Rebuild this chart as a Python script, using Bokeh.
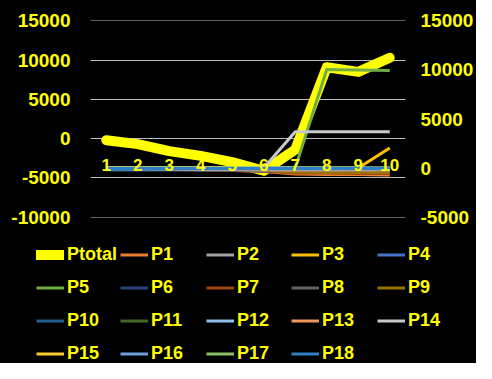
from bokeh.plotting import figure
from bokeh.layouts import column
from bokeh.models import Range1d, LinearAxis, FixedTicker, Grid, Legend, LegendItem
from bokeh.embed import file_html
from bokeh.resources import INLINE

# ---- data ----
x = [1, 2, 3, 4, 5, 6, 7, 8, 9, 10]
x_labels = ["1", "2", "3", "4", "5", "6", "7", "8", "9", "10"]
left_ticks = [-10000, -5000, 0, 5000, 10000, 15000]
left_labels = ["-10000", "-5000", "0", "5000", "10000", "15000"]
right_ticks = [-5000, 0, 5000, 10000, 15000]
right_labels = ["-5000", "0", "5000", "10000", "15000"]

ptotal = [-200, -700, -1600, -2200, -3000, -4100, -1400, 9100, 8500, 10300]

P1 = [0, -100, -150, -200, -250, -350, -600, -650, -650, -700]
P2 = [0, 0, 0, 0, 0, -100, -100, -100, -100, -100]
P3 = [0, 0, 0, 0, 0, 0, 0, 0, 0, 2050]
P4 = [-50, -50, -50, -50, -50, -50, -50, -50, -50, -50]
P5 = [0, 0, 0, 0, 0, 0, 0, 10050, 10000, 9950]
P6 = [-150, -150, -150, -150, -150, -150, -150, -150, -150, -150]
P7 = [0, 0, 0, 0, -100, -300, -500, -500, -550, -550]
P8 = [0, 0, 0, 0, -200, -350, -300, -300, -300, -300]
P9 = [0, -50, -100, -150, -200, -250, -400, -450, -450, -450]
P10 = [-200, -200, -200, -200, -200, -200, -200, -200, -200, -200]
P11 = [-100, -100, -100, -100, -100, -100, -100, -100, -100, -100]
P12 = [0, 0, 0, 0, 0, 0, 0, 0, 0, 0]
P13 = [0, -50, -100, -150, -150, -200, -200, -200, -200, -200]
P14 = [0, 0, 0, 0, 0, 0, 3700, 3700, 3700, 3700]
P15 = [0, 0, 0, 0, 0, -50, -50, -50, -50, -50]
P16 = [-100, -100, -100, -100, -100, -100, -100, -100, -100, -100]
P17 = [0, 0, 0, 0, 0, 0, 0, 0, 0, 0]
P18 = [-50, -50, -50, -50, -50, -50, -50, -50, -50, -50]

p_names = ["P1", "P2", "P3", "P4", "P5", "P6", "P7", "P8", "P9",
           "P10", "P11", "P12", "P13", "P14", "P15", "P16", "P17", "P18"]
p_values = [P1, P2, P3, P4, P5, P6, P7, P8, P9,
            P10, P11, P12, P13, P14, P15, P16, P17, P18]
p_colors = ["#ED7D31", "#A5A5A5", "#FFC000", "#4472C4", "#70AD47", "#264478",
            "#9E480E", "#636363", "#997300", "#255E91", "#43682B", "#8FC1EA",
            "#F1975A", "#C9C9C9", "#FFCD33", "#6F9FDC", "#8CC168", "#2E80C8"]

YELLOW = "#FFFF00"
FONT = "Liberation Sans"
BLACK_CSS = {"background-color": "black"}

# ---- main chart ----
# ranges padded a hair so the outermost gridlines (15000 / -10000) are drawn
p = figure(width=476, height=229, output_backend="svg", toolbar_location=None,
           x_range=Range1d(0.5, 10.5), y_range=Range1d(-5040, 15040),
           y_axis_location="right",
           min_border_left=90, min_border_right=68,
           min_border_top=20, min_border_bottom=12)
p.extra_y_ranges = {"left": Range1d(-10050, 15050)}
p.frame_align = False
p.styles = BLACK_CSS

p.background_fill_color = "black"
p.border_fill_color = None
p.outline_line_color = None
p.xgrid.visible = False
p.ygrid.visible = False

right_axis = p.yaxis[0]
right_axis.ticker = FixedTicker(ticks=right_ticks)
right_axis.major_label_overrides = {t: s for t, s in zip(right_ticks, right_labels)}

left_axis = LinearAxis(y_range_name="left", ticker=FixedTicker(ticks=left_ticks))
left_axis.major_label_overrides = {t: s for t, s in zip(left_ticks, left_labels)}
p.add_layout(left_axis, "left")

for ax in (right_axis, left_axis):
    ax.axis_line_color = None
    ax.major_tick_line_color = None
    ax.minor_tick_line_color = None
    ax.major_label_text_color = YELLOW
    ax.major_label_text_font = FONT
    ax.major_label_text_font_style = "bold"
    ax.major_label_text_font_size = "19px"
    ax.major_tick_out = 0
    ax.major_tick_in = 0
left_axis.major_label_standoff = 20
right_axis.major_label_standoff = 15

xa = p.xaxis[0]
xa.ticker = FixedTicker(ticks=x)
xa.major_label_overrides = {i: s for i, s in zip(x, x_labels)}
xa.fixed_location = 0
xa.axis_line_color = None
xa.major_tick_line_color = None
xa.minor_tick_line_color = None
xa.major_tick_out = 0
xa.major_tick_in = 0
xa.major_label_standoff = -9
xa.major_label_text_color = YELLOW
xa.major_label_text_font = FONT
xa.major_label_text_font_style = "bold"
xa.major_label_text_font_size = "17px"

grid = Grid(dimension=1, ticker=FixedTicker(ticks=left_ticks), y_range_name="left",
            grid_line_color="#BFBFBF", grid_line_width=1)
p.add_layout(grid)

p.line(x, ptotal, y_range_name="left", line_color=YELLOW,
       line_width=10, line_cap="round", line_join="round")
for vals, col in zip(p_values, p_colors):
    p.line(x, vals, line_color=col, line_width=3, line_join="round")

# ---- legend panel (hidden copies of the series give the legend swatches) ----
leg_fig = figure(width=476, height=134, output_backend="svg", toolbar_location=None,
                 x_axis_type=None, y_axis_type=None,
                 x_range=Range1d(0.5, 10.5), y_range=Range1d(-5000, 15000),
                 min_border_left=0, min_border_right=0,
                 min_border_top=0, min_border_bottom=0)
leg_fig.frame_align = False
leg_fig.styles = BLACK_CSS
leg_fig.background_fill_color = "black"
leg_fig.border_fill_color = None
leg_fig.outline_line_color = None
leg_fig.xgrid.visible = False
leg_fig.ygrid.visible = False

swatches = {}
swatches["Ptotal"] = leg_fig.line(x, ptotal, line_color=YELLOW, line_width=10,
                                  line_cap="round", visible=False)
for name, vals, col in zip(p_names, p_values, p_colors):
    swatches[name] = leg_fig.line(x, vals, line_color=col, line_width=3, visible=False)

all_names = ["Ptotal"] + p_names
col_x = [36, 120, 206, 291, 377]
for c in range(5):
    names = [all_names[i] for i in range(c, len(all_names), 5)]
    items = [LegendItem(label=n, renderers=[swatches[n]]) for n in names]
    n_missing = 4 - len(names)
    leg = Legend(items=items, location=(col_x[c], -1 + n_missing * 33),
                 orientation="vertical",
                 background_fill_alpha=0, border_line_color=None, padding=0, margin=0,
                 spacing=12, glyph_width=28, glyph_height=21, label_height=21,
                 label_standoff=3, label_text_color=YELLOW, label_text_font=FONT,
                 label_text_font_style="bold", label_text_font_size="18px")
    leg_fig.add_layout(leg)

layout = column(p, leg_fig, spacing=0)
layout.styles = BLACK_CSS
open("out.html", "w").write(file_html(layout, INLINE))
